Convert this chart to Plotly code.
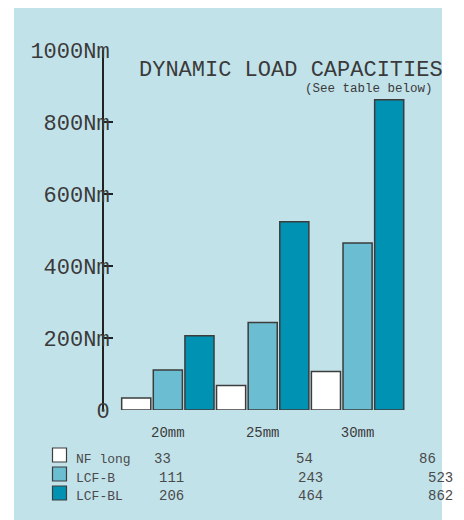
import plotly.graph_objects as go

# ---- data ----
categories = ["20mm", "25mm", "30mm"]
series_names = ["NF long", "LCF-B", "LCF-BL"]
nf_long = [33, 68, 107]
lcf_b = [111, 243, 464]
lcf_bl = [206, 523, 862]
# values printed in the table below the chart (as shown in the picture)
table_nf_long = [33, 54, 86]
table_lcf_b = [111, 243, 523]
table_lcf_bl = [206, 464, 862]
y_tickvals = [0, 200, 400, 600, 800, 1000]
y_ticktext = ["0", "200Nm", "400Nm", "600Nm", "800Nm", "1000Nm"]

# ---- styles ----
colors = ["#ffffff", "#6bbdd2", "#0092b2"]
bg_blue = "#c2e2ea"
text_col = "#3a3a3a"
FONT = "Courier New, Liberation Mono, monospace"

OFF = 8  # page body margin
W, H = 464 - OFF, 520 - OFF
ML, MR, MT, MB = 104 - OFF, 59, 50 - OFF, 110
PW, PH = W - ML - MR, H - MT - MB


def px(x):
    # x given in window pixels
    return (x - OFF - ML) / PW


def py(y):
    return (H - MB - (y - OFF)) / PH


fig = go.Figure()
for name, vals, col in zip(series_names, [nf_long, lcf_b, lcf_bl], colors):
    fig.add_trace(go.Bar(
        x=categories, y=vals, name=name,
        marker=dict(color=col, line=dict(color="#3c3c3c", width=1.5)),
        showlegend=False,
    ))

shapes = [dict(type="rect", xref="paper", yref="paper",
               x0=px(14), x1=px(442), y0=py(540), y1=py(6),
               fillcolor=bg_blue, line=dict(width=0), layer="below")]
annotations = [
    dict(text="DYNAMIC LOAD CAPACITIES", xref="paper", yref="paper",
         x=px(137), y=py(70), xanchor="left", yanchor="middle",
         showarrow=False, font=dict(family=FONT, size=22, color=text_col)),
    dict(text="(See table below)", xref="paper", yref="paper",
         x=px(435), y=py(89), xanchor="right", yanchor="middle",
         showarrow=False, font=dict(family=FONT, size=12.5, color=text_col)),
]

# table / legend rows
box_y = [455, 474, 493]
txt_y = [459, 478, 496]
col_x = [[152, 294, 417], [157, 296, 426], [157, 296, 426]]
for i, (name, vals, col) in enumerate(zip(series_names,
                                          [table_nf_long, table_lcf_b, table_lcf_bl],
                                          colors)):
    yb = box_y[i]
    yt = txt_y[i]
    shapes.append(dict(type="rect", xref="paper", yref="paper",
                       x0=px(52.5), x1=px(66.5), y0=py(yb + 7), y1=py(yb - 7),
                       fillcolor=col, line=dict(color="#3c3c3c", width=1.2),
                       layer="above"))
    annotations.append(dict(text=name, xref="paper", yref="paper",
                            x=px(74), y=py(yt), xanchor="left", yanchor="middle",
                            showarrow=False,
                            font=dict(family=FONT, size=13, color="#4a4a4a")))
    for v, cx in zip(vals, col_x[i]):
        annotations.append(dict(text=str(v), xref="paper", yref="paper",
                                x=px(cx), y=py(yt), xanchor="left", yanchor="middle",
                                showarrow=False,
                                font=dict(family=FONT, size=14, color="#4a4a4a")))

fig.update_layout(
    width=W, height=H,
    margin=dict(l=ML, r=MR, t=MT, b=MB, pad=0),
    paper_bgcolor="white", plot_bgcolor="rgba(0,0,0,0)",
    barmode="group", bargap=0, bargroupgap=0.08,
    shapes=shapes, annotations=annotations,
    xaxis=dict(range=[-0.673, 2.5], showline=False, showgrid=False,
               zeroline=False, ticks="", ticklabelstandoff=12,
               tickfont=dict(family=FONT, size=14, color=text_col)),
    yaxis=dict(range=[0, 1000], tickvals=y_tickvals, ticktext=y_ticktext,
               showline=True, linecolor="#222222", linewidth=2,
               ticks="inside", ticklen=9, tickwidth=2, tickcolor="#222222",
               showgrid=False, zeroline=False, ticklabelstandoff=-12,
               tickfont=dict(family=FONT, size=22, color=text_col)),
    font=dict(family=FONT),
)

fig.write_html("out.html")
